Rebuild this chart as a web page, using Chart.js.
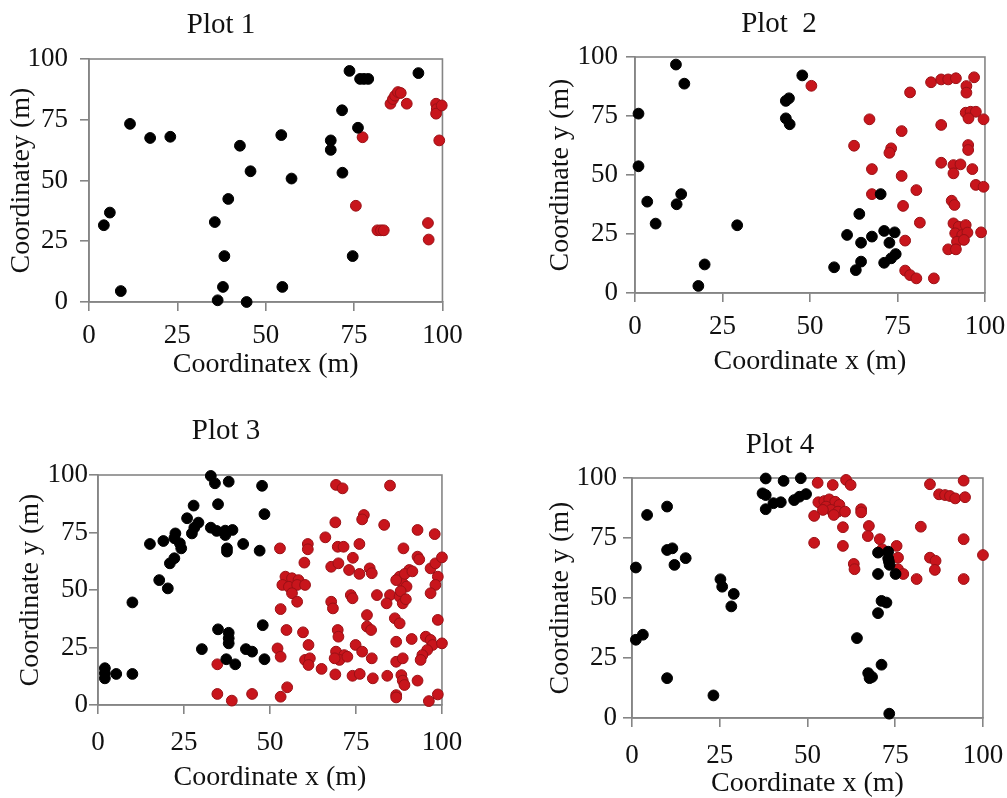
<!DOCTYPE html>
<html lang="en">
<head>
<meta charset="UTF-8">
<title>Plot 1 - Plot 4</title>
<script src="https://cdn.jsdelivr.net/npm/chart.js@4.4.3/dist/chart.umd.min.js"></script>
<style>
  * { margin: 0; padding: 0; }
  html, body { width: 1007px; height: 798px; overflow: hidden; background: #fff; }
  body { position: relative; }
  canvas { position: absolute; }
</style>
</head>
<body>
<canvas id="plot1"></canvas>
<canvas id="plot2"></canvas>
<canvas id="plot3"></canvas>
<canvas id="plot4"></canvas>
<script>
// ---- data (metres) ----
const axisTicks = [0, 25, 50, 75, 100];
const plotTitles = ['Plot 1', 'Plot  2', 'Plot 3', 'Plot 4'];
const xTitles = ['Coordinatex (m)', 'Coordinate x (m)', 'Coordinate x (m)', 'Coordinate x (m)'];
const yTitles = ['Coordinatey (m)', 'Coordinate y (m)', 'Coordinate y (m)', 'Coordinate y (m)'];

const plot1Black = [[4.2,31.6],[5.9,36.8],[9.0,4.5],[11.6,73.3],[17.3,67.5],[23.0,68.0],[35.6,32.9],[36.4,0.7],
  [37.9,6.2],[38.3,18.9],[39.4,42.4],[42.7,64.3],[44.6,0],[45.7,53.8],[54.4,68.7],[54.7,6.2],[57.3,50.8],
  [68.4,66.5],[68.4,62.6],[71.6,78.9],[71.7,53.2],[73.7,95.1],[74.6,18.9],[76.1,71.7],[76.7,91.8],[77.8,91.8],
  [79.0,91.8],[93.2,94.2]];
const plot1Red = [[77.4,67.8],[75.5,39.6],[81.6,29.5],[82.6,29.5],[83.4,29.5],[85.3,81.6],[86.0,83.5],[86.6,84.9],
  [87.4,86.4],[88.2,86.0],[89.9,81.6],[95.9,32.5],[96.1,25.7],[98.2,81.6],[98.4,79.4],[98.2,77.5],[99.8,80.9],
  [99.1,66.5]];

const plot2Black = [[11.7,96.8],[14.1,88.7],[1.0,76.0],[1.0,53.7],[3.5,38.7],[5.9,29.4],[11.9,37.6],[13.2,41.9],
  [29.2,28.7],[19.9,12.1],[18.1,3.0],[43.1,81.4],[44.0,82.5],[43.1,74.0],[44.2,71.5],[47.8,92.2],[56.9,10.9],
  [60.6,24.6],[63.1,9.7],[64.6,13.3],[64.1,33.5],[64.6,21.3],[67.7,23.9],[70.2,41.9],[71.2,26.3],[74.2,25.7],
  [72.7,21.3],[71.2,12.8],[73.2,14.7],[74.5,16.5]];
const plot2Red = [[50.4,87.8],[78.6,85.0],[84.6,89.3],[87.5,90.5],[89.5,90.5],[91.7,91.0],[96.9,91.4],[94.7,87.7],
  [94.7,84.9],[67.0,73.6],[76.2,68.6],[87.5,71.2],[94.5,76.4],[95.9,76.8],[97.4,76.8],[95.3,74.0],[99.6,73.6],
  [62.6,62.4],[73.2,61.3],[72.7,59.4],[95.2,62.7],[95.2,60.6],[67.7,52.5],[76.2,49.6],[87.5,55.2],[91.0,54.2],
  [93.0,54.5],[91.0,50.7],[96.4,52.5],[97.4,45.8],[99.6,45.0],[67.7,41.9],[80.4,43.6],[90.5,39.1],[91.3,37.3],
  [76.6,36.9],[81.4,29.8],[91.0,29.5],[92.5,28.1],[94.5,28.8],[91.5,25.3],[93.5,24.6],[95.0,25.6],[92.0,21.7],
  [94.0,22.5],[89.5,18.5],[91.7,18.5],[98.9,25.7],[77.2,22.2],[77.2,9.5],[78.6,7.6],[80.4,6.2],[85.4,6.2]];

const plot3Black = [[2.0,16.0],[2.0,11.6],[5.3,13.5],[10.0,13.5],[2.0,13.8],[10.0,44.6],[15.1,70.0],[19.0,71.3],
  [17.8,54.3],[20.3,50.7],[20.9,61.6],[22.2,63.8],[22.5,74.6],[22.2,72.5],[23.8,70.3],[24.2,68.1],[25.9,81.2],
  [27.8,86.7],[27.3,74.6],[28.0,77.1],[29.2,79.3],[30.2,24.3],[32.8,99.6],[34.0,96.4],[38.0,97.1],[34.9,87.3],
  [32.8,77.1],[34.5,75.7],[37.0,75.8],[39.1,76.1],[37.0,73.9],[37.5,68.1],[37.5,66.7],[42.2,70.0],[47.7,95.3],
  [48.4,83.0],[47.0,67.1],[34.9,32.9],[38.0,31.4],[38.0,29.0],[38.0,26.8],[37.3,19.9],[39.9,17.7],[43.0,24.3],
  [44.8,23.2],[47.9,34.7],[48.4,19.9]];
const plot3Red = [[34.7,17.7],[34.7,4.8],[38.9,1.9],[44.8,4.8],[69.2,95.7],[71.1,94.2],[84.9,95.4],[77.3,82.6],
  [76.8,80.7],[69.0,79.4],[83.2,78.3],[92.9,76.1],[97.9,74.3],[66.1,72.9],[61.0,70.0],[61.0,67.7],[52.9,68.1],
  [69.7,68.8],[71.4,68.8],[76.0,70.0],[88.8,68.1],[60.0,61.9],[67.8,60.1],[69.9,61.6],[74.1,64.0],[73.0,58.7],
  [76.0,57.0],[79.0,59.4],[79.6,57.3],[92.9,64.5],[93.4,63.3],[96.7,59.4],[98.1,61.6],[100,64.2],[90.5,58.7],
  [87.7,55.8],[88.6,52.9],[86.7,54.3],[98.8,55.8],[98.1,52.2],[54.5,55.8],[56.4,55.1],[58.3,54.3],[53.6,52.2],
  [55.5,51.4],[57.9,52.2],[60.2,52.2],[56.4,48.6],[57.9,44.9],[67.8,44.9],[68.3,42.0],[73.5,47.8],[74.0,46.4],
  [81.1,47.8],[84.9,47.8],[87.7,47.1],[88.6,44.2],[83.9,44.2],[96.7,48.6],[53.1,41.7],[78.2,39.1],[78.2,34.1],
  [79.4,32.6],[86.3,37.7],[87.7,35.5],[98.8,37.0],[54.8,32.6],[59.6,31.6],[69.7,32.6],[69.9,29.7],[91.2,28.7],
  [86.7,27.5],[95.3,29.7],[96.7,28.3],[97.3,26.1],[95.7,23.9],[94.3,21.7],[93.8,19.6],[100,26.8],[74.9,26.1],
  [76.8,23.2],[61.2,26.1],[52.2,24.6],[53.1,21.0],[69.2,23.2],[71.6,21.7],[70.2,19.6],[68.8,20.3],[72.5,21.0],
  [79.6,20.3],[60.2,19.6],[61.6,20.3],[61.2,17.4],[65.0,15.7],[86.7,18.8],[88.6,20.3],[69.0,13.3],[74.0,12.7],
  [76.1,13.5],[79.9,11.6],[84.1,12.7],[88.2,13.0],[88.6,10.6],[89.1,8.7],[92.9,10.6],[55.0,7.7],[53.1,3.6],
  [86.7,4.3],[86.7,3.3],[96.2,1.7],[98.8,4.6],[89.2,57.0],[89.7,51.5],[88.0,49.5],[89.5,46.0],[91.4,58.1]];

const plot4Black = [[1.1,62.7],[1.1,32.6],[3.1,34.7],[4.3,84.6],[10.0,88.1],[10.0,70.0],[11.5,70.7],[12.1,63.8],
  [15.3,66.6],[10.0,16.6],[23.2,9.4],[25.2,57.8],[25.7,54.7],[29.0,51.7],[28.3,46.5],[38.1,99.8],[43.2,98.8],
  [48.1,99.9],[37.2,93.6],[38.1,92.9],[38.1,87.0],[40.3,89.5],[42.4,89.9],[46.2,90.8],[47.7,92.2],[49.6,93.3],
  [70.1,68.9],[73.0,69.3],[73.0,66.5],[73.4,63.8],[73.2,65.2],[70.1,60.0],[75.1,60.0],[64.1,33.3],[67.3,18.7],
  [67.7,16.6],[68.4,17.1],[71.1,22.2],[70.1,43.7],[71.1,48.8],[72.5,48.1],[73.3,1.8]];
const plot4Red = [[52.9,98.0],[57.2,97.1],[61.0,99.2],[62.3,97.1],[53.1,89.9],[54.8,90.4],[56.2,91.1],[57.9,90.1],
  [59.1,88.8],[55.3,88.1],[56.7,86.7],[58.7,86.0],[60.7,86.0],[57.5,84.6],[54.4,86.7],[51.9,84.2],[65.3,87.0],
  [65.3,85.7],[60.1,79.5],[67.5,80.0],[67.2,75.8],[51.9,73.0],[60.1,71.7],[70.6,74.5],[71.3,70.3],[75.4,71.7],
  [75.8,66.8],[63.2,64.2],[63.4,62.0],[75.8,62.0],[77.3,60.0],[81.1,57.9],[82.3,79.7],[84.9,97.4],[87.5,93.2],
  [89.2,92.9],[90.6,92.5],[92.1,91.5],[94.5,98.9],[94.9,92.0],[94.5,74.5],[84.9,66.8],[86.5,65.5],[86.3,61.7],
  [94.5,57.9],[100,67.9]];

// ---- page layout of each panel (page pixels) ----
// L/R/T/B = plot box, tx/ty = title centre, yTitleX / xTitleY = axis title centres,
// yGap = axis to right edge of y labels, xGap = axis to middle of x labels
const frames = [
  {L: 89,  R: 446, T: 59,  B: 302, tx: 221, ty: 25,  yTitleX: 22,  xTitleY: 364, yGap: 21, xGap: 33.5},
  {L: 635, R: 972, T: 57,  B: 293, tx: 779, ty: 24,  yTitleX: 561, xTitleY: 361, yGap: 17, xGap: 34},
  {L: 98,  R: 450, T: 475, B: 705, tx: 226, ty: 431, yTitleX: 31,  xTitleY: 777, yGap: 10, xGap: 38},
  {L: 632, R: 981, T: 478, B: 718, tx: 780, ty: 445, yTitleX: 561, xTitleY: 783, yGap: 15, xGap: 38}
];

const FONT = "'Liberation Serif', 'Times New Roman', serif";
const TITLE_SIZE = 29, AXIS_SIZE = 28, TICK_SIZE = 27, TICK_LEN = 9;
const AXIS_GREY = '#858585';
const toPoints = arr => arr.map(p => ({x: p[0], y: p[1]}));

// grey box round the plot area
const framePlugin = {
  id: 'frame',
  beforeDatasetsDraw(chart) {
    const {ctx, chartArea: a} = chart;
    ctx.save();
    ctx.strokeStyle = AXIS_GREY;
    ctx.lineWidth = 1.6;
    ctx.strokeRect(a.left, a.top, a.right - a.left, a.bottom - a.top);
    ctx.restore();
  }
};

function makePlot(id, i, black, red) {
  const f = frames[i];
  const lhT = TITLE_SIZE * 1.2, lhA = AXIS_SIZE * 1.2, lhK = TICK_SIZE * 1.2;
  // canvas is placed so the full-width chart title lands on tx
  const right = Math.round(Math.max(f.R + 25, 2 * f.tx - (f.yTitleX - lhA / 2)));
  const left = Math.round(2 * f.tx - right);
  const top = Math.round(f.ty - lhT / 2);
  const bottom = Math.round(f.xTitleY + lhA / 2);

  const canvas = document.getElementById(id);
  canvas.width = right - left;
  canvas.height = bottom - top;
  canvas.style.left = left + 'px';
  canvas.style.top = top + 'px';

  const axis = (title, size, pad, tickPad) => ({
    type: 'linear',
    min: 0,
    max: 100,
    afterBuildTicks: s => { s.ticks = axisTicks.map(v => ({value: v})); },
    afterFit: size,
    grid: {display: true, drawOnChartArea: false, drawTicks: true, tickLength: TICK_LEN,
           color: AXIS_GREY, lineWidth: 1.6},
    border: {display: true, color: AXIS_GREY, width: 1.6},
    ticks: {color: '#111', padding: tickPad, font: {family: FONT, size: TICK_SIZE}},
    title: {display: true, text: title, color: '#111', padding: pad,
            font: {family: FONT, size: AXIS_SIZE}}
  });

  new Chart(canvas, {
    type: 'scatter',
    data: {
      datasets: [
        {data: toPoints(black), backgroundColor: '#000', borderColor: '#000', borderWidth: 1,
         pointRadius: 5.4, pointHoverRadius: 5.4, clip: false},
        {data: toPoints(red), backgroundColor: '#c8151c', borderColor: '#9a1015', borderWidth: 1,
         pointRadius: 5.4, pointHoverRadius: 5.4, clip: false}
      ]
    },
    options: {
      responsive: false,
      animation: false,
      events: [],
      layout: {padding: 0},
      plugins: {
        legend: {display: false},
        tooltip: {enabled: false},
        title: {
          display: true,
          text: plotTitles[i],
          color: '#111',
          font: {family: FONT, size: TITLE_SIZE, weight: 'normal'},
          padding: {top: 0, bottom: f.T - top - lhT}
        }
      },
      scales: {
        x: axis(xTitles[i], s => { s.height = bottom - f.B; }, {top: 0, bottom: 0},
                f.xGap - TICK_LEN - lhK / 2),
        y: axis(yTitles[i], s => { s.width = f.L - left; }, {top: f.yTitleX - left - lhA / 2, bottom: 0},
                f.yGap - TICK_LEN)
      }
    },
    plugins: [framePlugin]
  });
}

makePlot('plot1', 0, plot1Black, plot1Red);
makePlot('plot2', 1, plot2Black, plot2Red);
makePlot('plot3', 2, plot3Black, plot3Red);
makePlot('plot4', 3, plot4Black, plot4Red);
</script>
</body>
</html>
